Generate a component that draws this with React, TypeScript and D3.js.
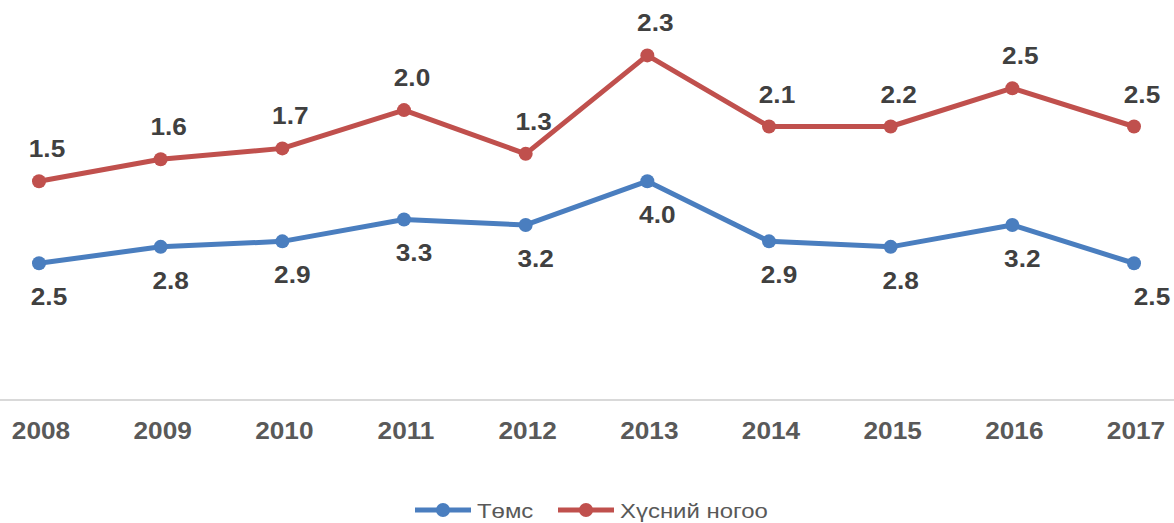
import React from "react";
import * as d3 from "d3";

const years = ["2008","2009","2010","2011","2012","2013","2014","2015","2016","2017"];
const potato = [2.5, 2.8, 2.9, 3.3, 3.2, 4.0, 2.9, 2.8, 3.2, 2.5];
const vegetables = [1.5, 1.6, 1.7, 2.0, 1.3, 2.3, 2.1, 2.2, 2.5, 2.5];
const seriesNames = ["Төмс", "Хүсний ногоо"];
const colors = ["#4a7ebf", "#c0504d"];

const W = 1174, H = 523;
const font = "'Liberation Sans', Arial, sans-serif";
const SX = 1.14;

function T(props: { x: number; y: number; size: number; bold?: boolean; fill: string; anchor?: string; children: React.ReactNode }) {
  return (
    <text
      transform={`translate(${props.x},${props.y}) scale(${SX},1)`}
      textAnchor={props.anchor || "middle"}
      fontFamily={font}
      fontWeight={props.bold ? "bold" : "normal"}
      fontSize={props.size}
      fill={props.fill}
    >
      {props.children}
    </text>
  );
}

export default function App() {
  const x = d3.scalePoint<string>().domain(years).range([39, 1134]);
  const y = d3.scaleLinear().domain([0, 7]).range([400, 400 - 7 * 54.7]);
  const stacked1 = potato;
  const stacked2 = potato.map((v, i) => v + vegetables[i]);
  const line = d3.line<number>().x((_, i) => x(years[i])!).y((d) => y(d));
  return (
    <div style={{ position: "absolute", left: 0, top: 0 }}>
      <svg width={W} height={H} style={{ display: "block" }}>
        <rect width={W} height={H} fill="#fff" />
        <line x1={0} x2={W} y1={y(0)} y2={y(0)} stroke="#d9d9d9" strokeWidth={2} />
        {years.map((yr) => (
          <T key={yr} x={x(yr)! + 2} y={439} size={23} bold fill="#595959">{yr}</T>
        ))}
        <path d={line(stacked1)!} fill="none" stroke={colors[0]} strokeWidth={5} strokeLinejoin="round" />
        <path d={line(stacked2)!} fill="none" stroke={colors[1]} strokeWidth={5} strokeLinejoin="round" />
        {stacked1.map((v, i) => (
          <circle key={"a" + i} cx={x(years[i])} cy={y(v)} r={7} fill={colors[0]} />
        ))}
        {stacked2.map((v, i) => (
          <circle key={"b" + i} cx={x(years[i])} cy={y(v)} r={7} fill={colors[1]} />
        ))}
        {potato.map((v, i) => (
          <T key={"la" + i} x={x(years[i])! + (i === years.length - 1 ? 18 : 10)} y={y(stacked1[i]) + 42} size={23} bold fill="#404040">{v.toFixed(1)}</T>
        ))}
        {vegetables.map((v, i) => (
          <T key={"lb" + i} x={x(years[i])! + 8} y={y(stacked2[i]) - 24} size={23} bold fill="#404040">{v.toFixed(1)}</T>
        ))}
        {seriesNames.map((name, i) => {
          const lx = i === 0 ? 415 : 558;
          return (
            <g key={name}>
              <line x1={lx} x2={lx + 56} y1={510} y2={510} stroke={colors[i]} strokeWidth={5} />
              <circle cx={lx + 28} cy={510} r={7} fill={colors[i]} />
              <T x={lx + 62} y={518} size={21} fill="#595959" anchor="start">{name}</T>
            </g>
          );
        })}
      </svg>
    </div>
  );
}
